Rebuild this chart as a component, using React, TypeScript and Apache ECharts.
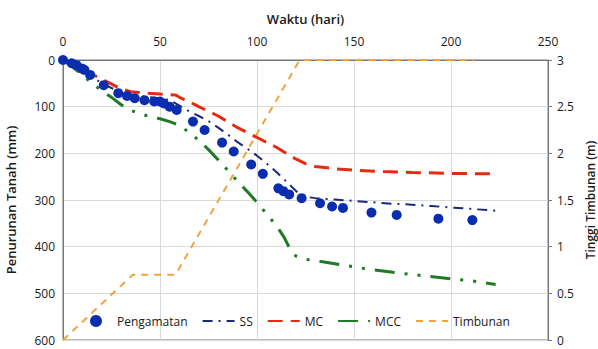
import React, { useEffect, useRef } from "react";
import * as echarts from "echarts";

// Observed settlement (day, mm)
const obsDays = [0, 4.5, 7, 9.6, 11, 14, 21, 28.5, 33, 37, 42, 47, 50, 52, 55, 58.6, 67, 73, 82, 88, 97, 103, 111, 113.6, 116.6, 123, 132.5, 138.7, 144.3, 159, 172, 193.5, 211];
const obsMm = [0, 7, 11, 18, 21, 32, 54, 71, 77, 82, 86, 89, 89, 93, 100, 107, 132, 150, 177, 196, 224, 244, 275, 281, 288, 296, 307, 314, 317, 327, 332, 340, 343];

// SS prediction
const ssDays = [0, 5, 10, 15, 20, 25, 30, 35, 40, 45, 50, 55, 60, 65, 70, 75, 80, 85, 90, 95, 100, 105, 110, 115, 120, 123, 130, 140, 150, 160, 170, 180, 190, 200, 210, 223];
const ssMm = [0, 12, 24, 36, 50, 60, 68, 74, 78, 80, 82, 86, 98, 110, 120, 131, 145, 160, 176, 190, 205, 222, 240, 260, 280, 292, 296, 299, 302, 305, 308, 310, 313, 316, 319, 323];

// MC prediction
const mcDays = [0, 10, 20, 30, 35, 40, 50, 58, 60, 65, 70, 80, 90, 100, 110, 115, 120, 125, 130, 140, 150, 165, 180, 200, 224];
const mcMm = [0, 20, 41, 62, 68, 70, 73, 75, 80, 89, 100, 120, 145, 166, 187, 200, 212, 222, 228, 233, 236, 239, 241, 243, 244];

// MCC prediction
const mccDays = [0, 5, 10, 15, 20, 25, 30, 35, 40, 45, 50, 55, 60, 65, 70, 75, 80, 85, 90, 95, 100, 105, 110, 114, 117, 120, 125, 133, 145, 157, 170, 185, 200, 212, 223];
const mccMm = [0, 15, 32, 50, 66, 80, 96, 108, 116, 121, 126, 132, 140, 155, 172, 192, 214, 237, 260, 282, 305, 330, 355, 380, 405, 420, 427, 432, 440, 448, 455, 462, 469, 474, 481];

// Embankment height (day, m)
const fillDays = [0, 36, 58, 122, 212];
const fillM = [0, 0.7, 0.7, 3, 3];

const zip = (a: number[], b: number[]) => a.map((v, i) => [v, b[i]]);

const FONT = "'Open Sans', 'Liberation Sans', sans-serif";

export default function App() {
  const ref = useRef<HTMLDivElement>(null);
  useEffect(() => {
    if (!ref.current) return;
    const chart = echarts.init(ref.current, null, { renderer: "svg" });
    const axisText = { color: "#1a1a1a", fontSize: 12, fontFamily: FONT };
    const titleText = { ...axisText, fontSize: 13, fontWeight: 600 };
    const hideSymbol = { itemStyle: { opacity: 0 } };
    chart.setOption({
      animation: false,
      backgroundColor: "#fff",
      textStyle: { fontFamily: FONT },
      grid: {
        left: 63,
        right: 50,
        top: 60,
        bottom: 9,
        show: true,
        borderColor: "#777",
        borderWidth: 1,
        outerBoundsMode: "none",
        containLabel: false,
      },
      legend: {
        bottom: 17,
        left: 85,
        itemWidth: 32,
        itemHeight: 12,
        itemGap: 14,
        textStyle: { ...axisText },
        data: [
          { name: "Pengamatan", icon: "circle" },
          { name: "SS", ...hideSymbol },
          { name: "MC", ...hideSymbol },
          { name: "MCC", ...hideSymbol },
          { name: "Timbunan", ...hideSymbol },
        ],
      },
      xAxis: {
        type: "value",
        position: "top",
        min: 0,
        max: 250,
        interval: 50,
        name: "Waktu (hari)",
        nameLocation: "middle",
        nameGap: 35,
        nameTextStyle: titleText,
        axisLabel: { ...axisText, margin: 13 },
        axisLine: { show: true, lineStyle: { color: "#777" } },
        axisTick: { show: false },
        splitLine: { show: true, lineStyle: { color: "#d9d9d9" } },
      },
      yAxis: [
        {
          type: "value",
          inverse: true,
          min: 0,
          max: 600,
          interval: 100,
          name: "Penurunan Tanah (mm)",
          nameLocation: "middle",
          nameGap: 46,
          nameRotate: 90,
          nameTextStyle: titleText,
          axisLabel: { ...axisText },
          axisLine: { show: true, lineStyle: { color: "#777" } },
          axisTick: { show: false },
          splitLine: { show: true, lineStyle: { color: "#d9d9d9" } },
        },
        {
          type: "value",
          min: 0,
          max: 3,
          interval: 0.5,
          position: "right",
          name: "Tinggi Timbunan (m)",
          nameLocation: "middle",
          nameGap: 29,
          nameRotate: 90,
          nameTextStyle: { ...titleText, fontSize: 12 },
          axisLabel: { ...axisText, margin: 9 },
          axisLine: { show: true, lineStyle: { color: "#777" } },
          axisTick: { show: true, length: 4, lineStyle: { color: "#777" } },
          splitLine: { show: false },
        },
      ],
      series: [
        {
          name: "Timbunan",
          type: "line",
          yAxisIndex: 1,
          data: zip(fillDays, fillM),
          symbol: "none",
          lineStyle: { color: "#f2a33a", width: 2, type: [7, 6] },
          itemStyle: { color: "#f2a33a" },
          z: 1,
        },
        {
          name: "MCC",
          type: "line",
          data: zip(mccDays, mccMm),
          symbol: "none",
          lineStyle: { color: "#1e7a23", width: 3, type: [20, 10, 3, 10, 3, 10] },
          itemStyle: { color: "#1e7a23" },
          z: 2,
        },
        {
          name: "MC",
          type: "line",
          data: zip(mcDays, mcMm),
          symbol: "none",
          lineStyle: { color: "#e52a12", width: 3, type: [15, 8] },
          itemStyle: { color: "#e52a12" },
          z: 2,
        },
        {
          name: "SS",
          type: "line",
          data: zip(ssDays, ssMm),
          symbol: "none",
          lineStyle: { color: "#1b2a78", width: 2, type: [10, 6, 2, 6] },
          itemStyle: { color: "#1b2a78" },
          z: 3,
        },
        {
          name: "Pengamatan",
          type: "scatter",
          data: zip(obsDays, obsMm),
          symbol: "circle",
          symbolSize: 10,
          itemStyle: { color: "#0a2db0", opacity: 1 },
          z: 4,
        },
      ],
    });
    return () => chart.dispose();
  }, []);
  return <div ref={ref} style={{ width: 598, height: 349, position: "absolute", left: 0, top: 0 }} />;
}
